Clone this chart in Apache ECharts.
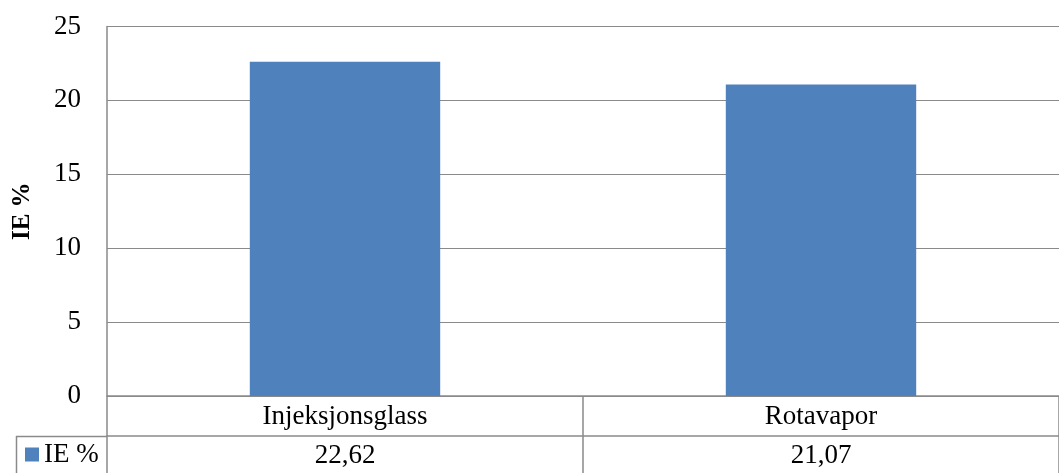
<!DOCTYPE html>
<html>
<head>
<meta charset="utf-8">
<script src="https://cdn.jsdelivr.net/npm/echarts@6/dist/echarts.min.js"></script>
<style>
  html, body { margin: 0; padding: 0; background: #fff; }
  #main { width: 1059px; height: 473px; }
</style>
</head>
<body>
<div id="main"></div>
<script>
var categories = ['Injeksjonsglass', 'Rotavapor'];
var ieValues = [22.62, 21.07];
var seriesName = 'IE %';
var yTicks = { min: 0, max: 25, step: 5 };

var font = 'Liberation Serif';
var lineCol = '#8a8a8a';

var chart = echarts.init(document.getElementById('main'));  // echarts定义

function fmt(v) {
  return v.toFixed(2).replace('.', ',');
}

var option = {
  animation: false,
  backgroundColor: '#fff',
  textStyle: { fontFamily: font },
  grid: { left: 107, right: 0, top: 26.5, bottom: 77, containLabel: false, outerBoundsMode: 'none' },
  legend: {
    left: 25, top: 441, padding: 0,
    icon: 'rect', itemWidth: 14, itemHeight: 14, itemGap: 4,
    textStyle: { fontFamily: font, fontSize: 27, color: '#000' },
    data: [seriesName]
  },
  xAxis: [
    {
      type: 'category',
      data: categories,
      axisLine: { show: true, lineStyle: { color: lineCol, width: 1.5 } },
      axisTick: { show: true, length: 40, lineStyle: { color: lineCol, width: 1.5 } },
      axisLabel: { fontFamily: font, fontSize: 27, color: '#000', margin: 7 }
    },
    {
      type: 'category',
      position: 'bottom',
      offset: 40,
      data: categories,
      axisLine: { show: true, lineStyle: { color: lineCol, width: 1.5 } },
      axisTick: { show: true, length: 40, lineStyle: { color: lineCol, width: 1.5 } },
      axisLabel: {
        fontFamily: font, fontSize: 27, color: '#000', margin: 6,
        formatter: function (v, i) { return fmt(ieValues[i]); }
      }
    }
  ],
  yAxis: {
    type: 'value',
    min: yTicks.min, max: yTicks.max, interval: yTicks.step,
    name: seriesName,
    nameLocation: 'middle',
    nameGap: 72,
    nameTextStyle: { fontFamily: font, fontSize: 25, fontWeight: 'bold', color: '#000' },
    axisLine: { show: true, lineStyle: { color: lineCol, width: 1.5 } },
    axisTick: { show: false },
    axisLabel: { fontFamily: font, fontSize: 27, color: '#000', margin: 26 },
    splitLine: { lineStyle: { color: lineCol, width: 1.2 } }
  },
  series: [
    {
      name: seriesName,
      type: 'bar',
      xAxisIndex: 0,
      data: ieValues,
      barWidth: '40%',
      itemStyle: { color: '#4f81bd' }
    }
  ],
  // 表格左侧图例格子
  graphic: [
    { type: 'line', shape: { x1: 16, y1: 436.5, x2: 107, y2: 436.5 }, style: { stroke: lineCol, lineWidth: 1.5 } },
    { type: 'line', shape: { x1: 16.5, y1: 436, x2: 16.5, y2: 473 }, style: { stroke: lineCol, lineWidth: 1.5 } }
  ]
};
chart.setOption(option);
</script>
</body>
</html>
